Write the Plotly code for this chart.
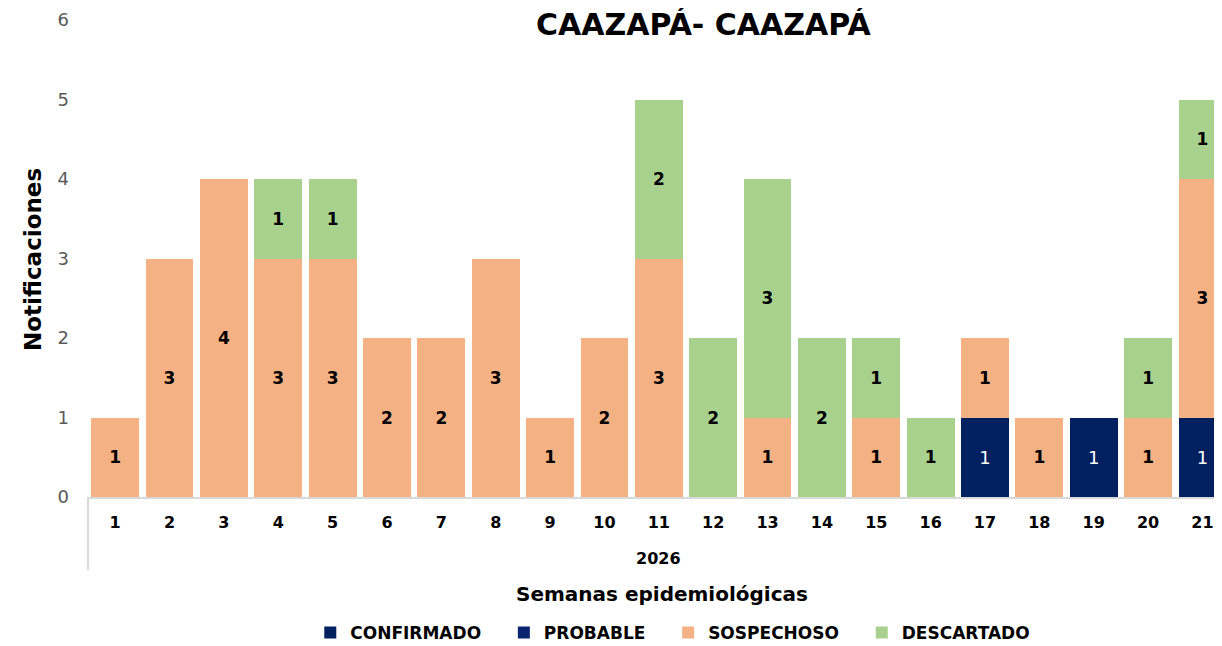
import plotly.graph_objects as go

weeks = list(range(1, 22))
confirmado = [None]*16 + [1, None, 1, None, 1]
probable = [None]*21
sospechoso = [1, 3, 4, 3, 3, 2, 2, 3, 1, 2, 3, None, 1, None, 1, None, 1, 1, None, 1, 3]
descartado = [None, None, None, 1, 1, None, None, None, None, None, 2, 2, 3, 2, 1, 1, None, None, None, 1, 1]

FONT = "DejaVu Sans"
NB = "\u00a0"

fig = go.Figure()

def add(name, vals, color, tcolor, bold=True):
    fig.add_trace(go.Bar(
        x=weeks, y=vals, name=name + NB*3, marker=dict(color=color, line=dict(width=0)),
        width=0.88,
        text=[("" if v is None else str(v)) for v in vals],
        textposition="inside", insidetextanchor="middle",
        textangle=0,
        textfont=dict(family=FONT, size=18 if not bold else 17, color=tcolor,
                      weight="bold" if bold else "normal"),
        hoverinfo="skip",
    ))

add("CONFIRMADO", confirmado, "#002060", "white", bold=False)
add("PROBABLE", probable, "#0A2470", "white", bold=False)
add("SOSPECHOSO", sospechoso, "#F4B183", "black")
add("DESCARTADO", descartado, "#A9D18E", "black")

fig.update_layout(
    barmode="stack",
    width=1214, height=638,
    margin=dict(l=80, r=0, t=12, b=149),
    paper_bgcolor="white", plot_bgcolor="white",
    showlegend=True,
    legend=dict(orientation="h", xref="container", yref="container", x=0.555, xanchor="center",
                y=13/638, yanchor="middle", font=dict(family=FONT, size=17, color="black", weight="bold"),
                itemwidth=30, traceorder="normal"),
    font=dict(family=FONT),
)

fig.update_xaxes(
    range=[0.5, 21.36], tickmode="array", tickvals=weeks, ticktext=[str(w) for w in weeks],
    tickfont=dict(family=FONT, size=16, color="black", weight="bold"),
    showline=True, linecolor="#D9D9D9", linewidth=2, showgrid=False, ticks="", ticklabelstandoff=10,
    zeroline=False,
)
fig.update_yaxes(
    range=[0, 6], tickvals=[0, 1, 2, 3, 4, 5, 6], showgrid=False, zeroline=False, showline=False,
    tickfont=dict(family=FONT, size=18, color="#595959"), ticklabelstandoff=18,
)

# vertical separator of category axis
fig.add_shape(type="line", xref="paper", yref="paper", x0=0, x1=0, y0=0, y1=-73/477,
              line=dict(color="#D9D9D9", width=2))

fig.add_annotation(text="<b>CAAZAPÁ- CAAZAPÁ</b>", xref="paper", yref="paper",
                   x=(703-88)/1134, y=(497-25)/477, yanchor="middle", showarrow=False,
                   font=dict(family=FONT, size=30, color="black"))
fig.add_annotation(text="<b>2026</b>", xref="paper", yref="paper",
                   x=(658-88)/1134, y=-(558-497)/477, yanchor="middle", showarrow=False,
                   font=dict(family=FONT, size=16, color="black"))
fig.add_annotation(text="<b>Semanas epidemiológicas</b>", xref="paper", yref="paper",
                   x=(662-88)/1134, y=-(594-497)/477, yanchor="middle", showarrow=False,
                   font=dict(family=FONT, size=20, color="black"))
fig.add_annotation(text="<b>Notificaciones</b>", xref="paper", yref="paper",
                   x=-(88-33)/1134, y=(497-260)/477, xanchor="center", yanchor="middle",
                   textangle=-90, showarrow=False,
                   font=dict(family=FONT, size=23, color="black"))

fig.write_html("out.html")
